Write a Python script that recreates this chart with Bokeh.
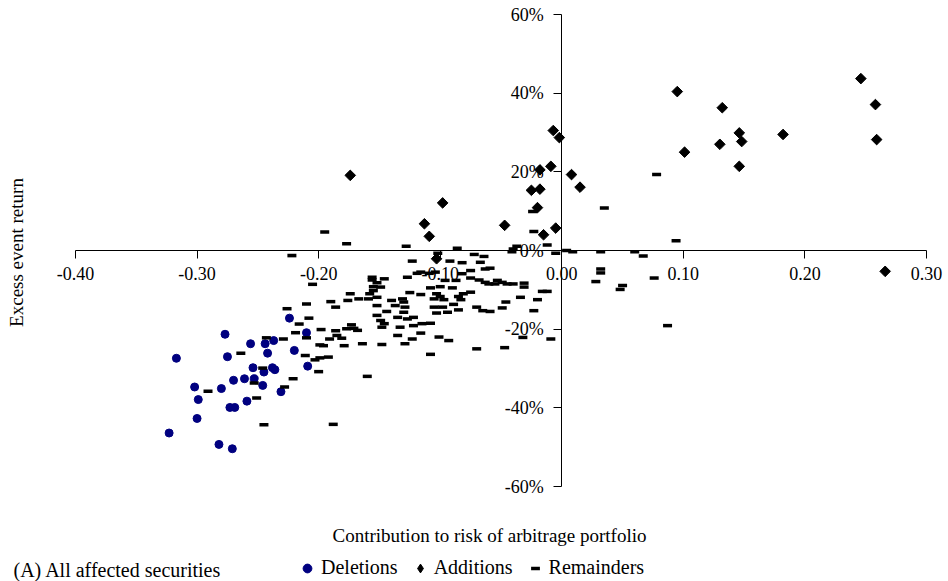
import numpy as np
from bokeh.plotting import figure
from bokeh.models import FixedTicker, Label, Legend, LegendItem
from bokeh.embed import file_html
from bokeh.resources import INLINE

x_ticks = [-0.40, -0.30, -0.20, -0.10, 0.00, 0.10, 0.20, 0.30]
x_tick_labels = ["-0.40", "-0.30", "-0.20", "-0.10", "0.00", "0.10", "0.20", "0.30"]
y_ticks = [-0.6, -0.4, -0.2, 0.0, 0.2, 0.4, 0.6]
y_tick_labels = ["-60%", "-40%", "-20%", "0%", "20%", "40%", "60%"]

# Deletions
del_x = [-0.277, -0.256, -0.244, -0.237, -0.224, -0.210, -0.317, -0.275, -0.242, -0.220,
         -0.254, -0.245, -0.238, -0.236, -0.209, -0.302, -0.280, -0.270, -0.261, -0.253,
         -0.246, -0.231, -0.299, -0.273, -0.269, -0.259, -0.300, -0.323, -0.282, -0.271]
del_y = [-0.213, -0.237, -0.237, -0.229, -0.172, -0.209, -0.274, -0.270, -0.261, -0.254,
         -0.298, -0.309, -0.298, -0.303, -0.294, -0.347, -0.351, -0.330, -0.326, -0.326,
         -0.343, -0.359, -0.379, -0.399, -0.399, -0.383, -0.427, -0.464, -0.493, -0.504]

# Additions
add_x = [-0.174, -0.098, -0.113, -0.109, -0.103, -0.047, -0.025, -0.018, -0.018, -0.009,
         -0.007, -0.002, -0.020, -0.015, -0.005, 0.008, 0.015, 0.095, 0.101, 0.130,
         0.132, 0.146, 0.148, 0.146, 0.182, 0.246, 0.258, 0.259, 0.266]
add_y = [0.191, 0.121, 0.068, 0.036, -0.021, 0.064, 0.153, 0.156, 0.205, 0.214,
         0.305, 0.287, 0.109, 0.040, 0.057, 0.193, 0.161, 0.404, 0.250, 0.270,
         0.363, 0.299, 0.277, 0.214, 0.295, 0.437, 0.371, 0.282, -0.053]

# Remainders
rem_x = [-0.195, -0.177, -0.222, -0.156, -0.156, -0.152, -0.205, -0.174, -0.158, -0.190,
         -0.210, -0.176, -0.167, -0.159, -0.186, -0.226, -0.152, -0.208, -0.216, -0.173,
         -0.171, -0.177, -0.198, -0.186, -0.168, -0.210, -0.229, -0.243, -0.191, -0.185,
         -0.181, -0.196, -0.179, -0.164, -0.264, -0.211, -0.199, -0.192,
         -0.219, -0.203, -0.200, -0.246, -0.253, -0.221, -0.228, -0.251, -0.291, -0.245,
         -0.199, -0.188,
         -0.128, -0.086, -0.037, -0.040, -0.041, -0.102, -0.072, -0.064, -0.123, -0.092,
         -0.082, -0.067, -0.075, -0.063, -0.059, -0.005, -0.012,
         -0.146, -0.127, -0.119, -0.116, -0.109, -0.104, -0.096, -0.087, -0.082, -0.075,
         -0.068, -0.063, -0.060, -0.055, -0.053, -0.049, -0.045, -0.040, -0.031, -0.031,
         -0.155, -0.149, -0.155, -0.125, -0.116, -0.108, -0.100, -0.090, -0.081, -0.075,
         -0.103, -0.100, -0.085, -0.034, -0.020, -0.016, -0.012, -0.152, -0.140, -0.131,
         -0.130, -0.105, -0.097, -0.083,
         -0.137, -0.129, -0.105, -0.098, -0.089, -0.085, -0.070, -0.065, -0.059, -0.049,
         -0.046, -0.023, -0.144, -0.130, -0.152, -0.094, -0.103, -0.149, -0.146, -0.135,
         -0.127, -0.122, -0.148, -0.133, -0.122, -0.115, -0.108, -0.135, -0.123, -0.116,
         -0.101, -0.093, -0.148, -0.129, -0.070, -0.108, -0.009,
         0.078, 0.035, 0.094, 0.004, 0.009, 0.032, 0.060, 0.067, 0.032, 0.032,
         0.028, 0.050, 0.048, 0.076, 0.087,
         -0.032, -0.047, -0.160, -0.024, -0.023]
rem_y = [0.047, 0.017, -0.013, -0.068, -0.075, -0.082, -0.086, -0.110, -0.110, -0.130,
         -0.136, -0.127, -0.123, -0.123, -0.144, -0.148, -0.140, -0.172, -0.187, -0.189,
         -0.198, -0.199, -0.201, -0.204, -0.203, -0.222, -0.225, -0.222, -0.225, -0.216,
         -0.223, -0.242, -0.242, -0.237, -0.261, -0.267, -0.273, -0.271,
         -0.209, -0.278, -0.308, -0.299, -0.337, -0.326, -0.347, -0.375, -0.358, -0.443,
         -0.240, -0.442,
         0.011, 0.006, 0.011, 0.004, -0.003, -0.007, -0.010, -0.015, -0.027, -0.027,
         -0.031, -0.030, -0.051, -0.047, -0.045, -0.007, 0.014,
         -0.072, -0.068, -0.058, -0.055, -0.058, -0.055, -0.076, -0.076, -0.059, -0.070,
         -0.075, -0.081, -0.085, -0.085, -0.076, -0.081, -0.085, -0.085, -0.083, -0.093,
         -0.092, -0.093, -0.102, -0.107, -0.112, -0.095, -0.092, -0.095, -0.110, -0.106,
         -0.110, -0.117, -0.117, -0.119, -0.125, -0.104, -0.104, -0.119, -0.127, -0.123,
         -0.131, -0.123, -0.125, -0.125,
         -0.140, -0.144, -0.144, -0.144, -0.137, -0.151, -0.144, -0.153, -0.155, -0.146,
         -0.131, -0.153, -0.155, -0.157, -0.165, -0.157, -0.159, -0.178, -0.186, -0.170,
         -0.174, -0.170, -0.195, -0.195, -0.191, -0.186, -0.185, -0.216, -0.225, -0.210,
         -0.220, -0.229, -0.239, -0.237, -0.250, -0.264, -0.225,
         0.193, 0.108, 0.025, 0.000, -0.003, -0.003, -0.003, -0.014, -0.047, -0.057,
         -0.079, -0.089, -0.099, -0.070, -0.191,
         -0.221, -0.247, -0.320, 0.099, 0.048]

FONT = "Liberation Serif"
W, H = 948, 581

# pixel layout: the frame fills the canvas; axis ends land at these pixels
AX_L, AX_R, AX_T, AX_B = 75, 926, 14, 486
xppu = (AX_R - AX_L) / (x_ticks[-1] - x_ticks[0])
yppu = (AX_B - AX_T) / (y_ticks[-1] - y_ticks[0])
x_range = (x_ticks[0] - AX_L / xppu, x_ticks[-1] + (W - AX_R) / xppu)
y_range = (y_ticks[0] - (H - AX_B) / yppu, y_ticks[-1] + AX_T / yppu)

p = figure(width=W, height=H, x_range=x_range, y_range=y_range, title=None,
           output_backend="svg", toolbar_location=None, min_border=0)
p.grid.visible = False
p.outline_line_color = None

for ax in (p.xaxis[0], p.yaxis[0]):
    ax.fixed_location = 0
    ax.axis_line_color = "black"
    ax.axis_line_width = 1
    ax.major_tick_line_color = "black"
    ax.major_tick_out = 8
    ax.major_tick_in = 0
    ax.minor_tick_line_color = None
    ax.minor_tick_out = 0
    ax.major_label_text_font = FONT
    ax.major_label_text_font_size = "18px"
    ax.major_label_text_color = "black"

p.xaxis[0].ticker = FixedTicker(ticks=x_ticks)
p.xaxis[0].bounds = (x_ticks[0], x_ticks[-1])
p.xaxis[0].major_label_overrides = dict(zip(x_ticks, x_tick_labels))
p.xaxis[0].major_label_standoff = 8
p.yaxis[0].ticker = FixedTicker(ticks=y_ticks)
p.yaxis[0].bounds = (y_ticks[0], y_ticks[-1])
p.yaxis[0].major_label_overrides = dict(zip(y_ticks, y_tick_labels))
p.yaxis[0].major_label_standoff = 10

r_del = p.scatter(del_x, del_y, marker="circle", size=8, fill_color="#000080", line_color="#000080")
r_add = p.scatter(add_x, add_y, marker="square", size=7.5, angle=np.pi / 4,
                  fill_color="black", line_color="black")
r_rem = p.scatter(rem_x, rem_y, marker="dash", size=9, line_width=3.5, line_color="black")
# legend swatch for the additions (the legend does not rotate the square);
# it holds no drawable point, only the style for the legend key
r_add_key = p.scatter([np.nan], [np.nan], marker="diamond", size=10,
                      fill_color="black", line_color="black")

legend = Legend(items=[LegendItem(label="Deletions", renderers=[r_del]),
                       LegendItem(label="Additions", renderers=[r_add_key]),
                       LegendItem(label="Remainders", renderers=[r_rem])],
                orientation="horizontal", location=(296, 2),
                border_line_color=None, background_fill_alpha=0,
                label_text_font=FONT, label_text_font_size="20px",
                label_text_color="black",
                glyph_width=22, glyph_height=22, spacing=11, label_standoff=3,
                padding=0, margin=0)
p.add_layout(legend)

p.add_layout(Label(x=489, y=H - 535, x_units="screen", y_units="screen",
                   text="Contribution to risk of arbitrage portfolio", text_align="center",
                   text_baseline="middle", text_font=FONT, text_font_size="19px",
                   text_color="black"))
p.add_layout(Label(x=16, y=H - 252, x_units="screen", y_units="screen",
                   text="Excess event return", angle=np.pi / 2, text_align="center",
                   text_baseline="middle", text_font=FONT, text_font_size="19px",
                   text_color="black"))
p.add_layout(Label(x=13, y=1, x_units="screen", y_units="screen",
                   text="(A) All affected securities", text_align="left",
                   text_baseline="bottom", text_font=FONT, text_font_size="20px",
                   text_color="black"))

open("out.html", "w").write(file_html(p, INLINE))
